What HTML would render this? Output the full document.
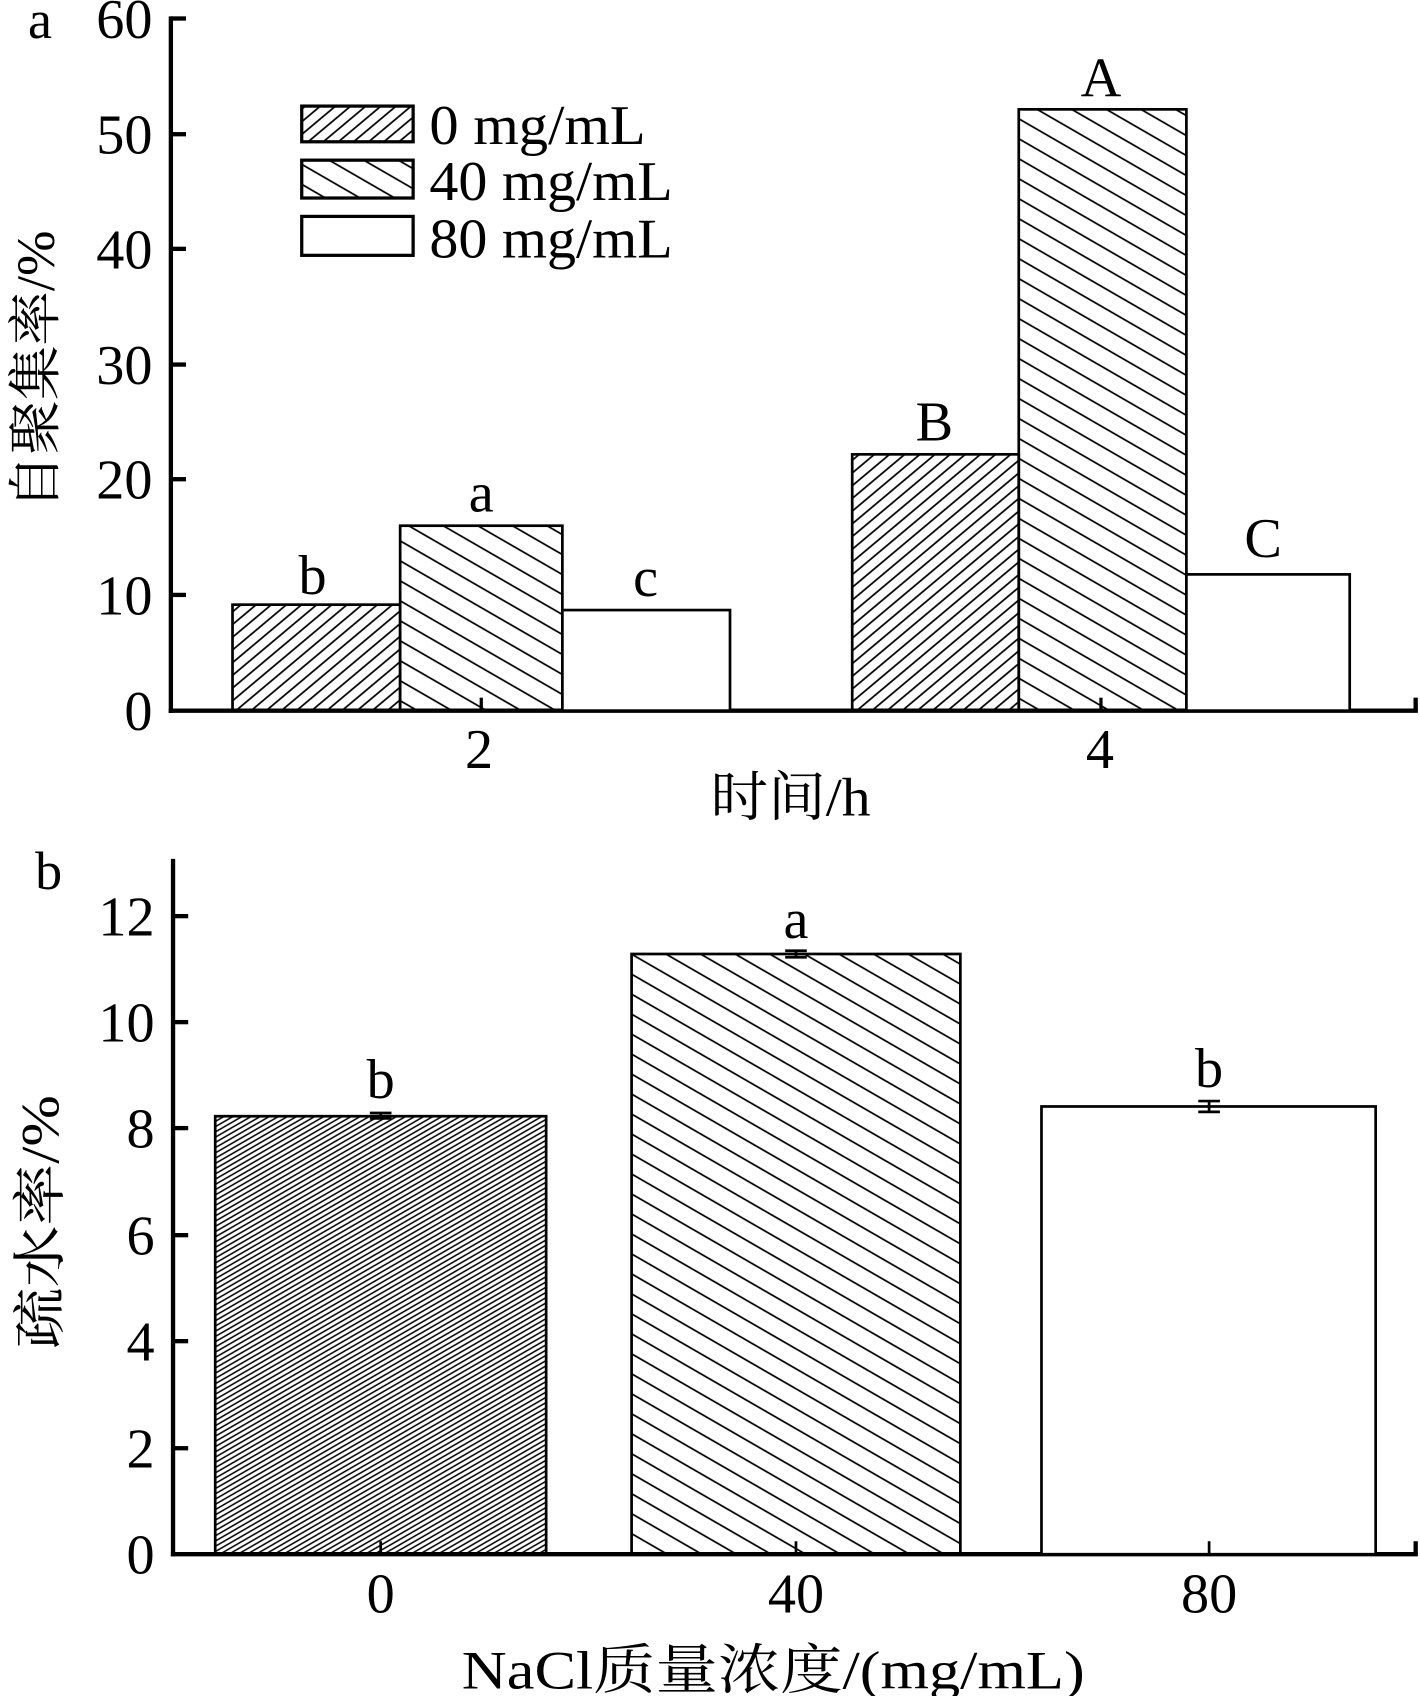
<!DOCTYPE html>
<html><head><meta charset="utf-8"><style>
html,body{margin:0;padding:0;background:#fff;}
svg{display:block;}
text{font-family:"Liberation Serif","Noto Serif CJK SC",serif;fill:#000;}
</style></head><body>
<svg width="1420" height="1696" viewBox="0 0 1313 1568" xmlns="http://www.w3.org/2000/svg">
<defs>
<pattern id="p1" width="9" height="9" patternUnits="userSpaceOnUse" patternTransform="rotate(-40)"><line x1="0" y1="4.5" x2="9" y2="4.5" stroke="#000" stroke-width="1.6"/></pattern>
<pattern id="p2" width="16" height="16" patternUnits="userSpaceOnUse" patternTransform="rotate(30)"><line x1="0" y1="8" x2="16" y2="8" stroke="#000" stroke-width="1.6"/></pattern>
<pattern id="p3" width="4.2" height="4.2" patternUnits="userSpaceOnUse" patternTransform="rotate(-30)"><line x1="0" y1="2.1" x2="4.2" y2="2.1" stroke="#000" stroke-width="1.4"/></pattern>
</defs>
<g font-size="50">
<!-- chart a -->
<text x="37" y="35" text-anchor="middle">a</text>
<g stroke="#000" stroke-width="4" fill="none">
<line x1="158" y1="15" x2="158" y2="659"/>
<line x1="156" y1="657" x2="1311" y2="657"/>
<line x1="158" y1="17" x2="172" y2="17"/><line x1="158" y1="124" x2="172" y2="124"/><line x1="158" y1="230" x2="172" y2="230"/><line x1="158" y1="337" x2="172" y2="337"/><line x1="158" y1="443" x2="172" y2="443"/><line x1="158" y1="550" x2="172" y2="550"/>
<line x1="1309" y1="657" x2="1309" y2="645"/>
</g>
<g text-anchor="end" font-size="52">
<text x="141" y="35">60</text><text x="141" y="142">50</text><text x="141" y="248">40</text><text x="141" y="355">30</text><text x="141" y="461">20</text><text x="141" y="568">10</text><text x="141" y="675">0</text>
</g>
<g stroke="#000" stroke-width="2.5">
<rect x="215" y="559" width="155" height="98" fill="url(#p1)"/>
<rect x="370" y="486" width="150" height="171" fill="url(#p2)"/>
<rect x="520" y="564" width="155" height="93" fill="#fff"/>
<rect x="788" y="420" width="154" height="237" fill="url(#p1)"/>
<rect x="942" y="101" width="155" height="556" fill="url(#p2)"/>
<rect x="1097" y="531" width="151" height="126" fill="#fff"/>
</g>
<g stroke="#000" stroke-width="3"><line x1="445" y1="657" x2="445" y2="645"/><line x1="1018" y1="657" x2="1018" y2="645"/></g>
<g text-anchor="middle" font-size="52">
<text x="289" y="549">b</text><text x="445" y="473">a</text><text x="597" y="551">c</text>
<text x="864" y="407">B</text><text x="1018" y="89">A</text><text x="1168" y="515">C</text>
<text x="443" y="710">2</text><text x="1017" y="710">4</text>
<text x="731" y="754" font-size="50" textLength="148" lengthAdjust="spacingAndGlyphs">时间/h</text>
</g>
<text transform="translate(50,342) rotate(-90)" text-anchor="middle" font-size="50" textLength="258" lengthAdjust="spacingAndGlyphs">自聚集率/%</text>
<g stroke="#000" stroke-width="3">
<rect x="279" y="98" width="103" height="33" fill="url(#p1)"/>
<rect x="279" y="148" width="103" height="35" fill="url(#p2)"/>
<rect x="279" y="200" width="103" height="36" fill="#fff"/>
</g>
<g font-size="52">
<text x="397" y="133" textLength="200" lengthAdjust="spacingAndGlyphs">0 mg/mL</text><text x="397" y="185" textLength="225" lengthAdjust="spacingAndGlyphs">40 mg/mL</text><text x="397" y="238" textLength="225" lengthAdjust="spacingAndGlyphs">80 mg/mL</text>
</g>

<!-- chart b -->
<text x="45" y="822" text-anchor="middle">b</text>
<g stroke="#000" stroke-width="4" fill="none">
<line x1="160" y1="794" x2="160" y2="1439"/>
<line x1="158" y1="1437" x2="1311" y2="1437"/>
<line x1="160" y1="847" x2="174" y2="847"/><line x1="160" y1="945" x2="174" y2="945"/><line x1="160" y1="1043" x2="174" y2="1043"/><line x1="160" y1="1142" x2="174" y2="1142"/><line x1="160" y1="1240" x2="174" y2="1240"/><line x1="160" y1="1339" x2="174" y2="1339"/>
<line x1="1309" y1="1437" x2="1309" y2="1425"/>
</g>
<g text-anchor="end" font-size="52">
<text x="143" y="865">12</text><text x="143" y="963">10</text><text x="143" y="1061">8</text><text x="143" y="1160">6</text><text x="143" y="1258">4</text><text x="143" y="1357">2</text><text x="143" y="1455">0</text>
</g>
<g stroke="#000" stroke-width="2.5">
<rect x="199" y="1032" width="306" height="405" fill="url(#p3)"/>
<rect x="584" y="882" width="304" height="555" fill="url(#p2)"/>
<rect x="963" y="1023" width="309" height="414" fill="#fff"/>
</g>
<g stroke="#000" stroke-width="2.5">
<line x1="352" y1="1029" x2="352" y2="1034"/><line x1="342" y1="1029" x2="362" y2="1029"/><line x1="342" y1="1034" x2="362" y2="1034"/>
<line x1="736" y1="879" x2="736" y2="885"/><line x1="726" y1="879" x2="746" y2="879"/><line x1="726" y1="885" x2="746" y2="885"/>
<line x1="1118" y1="1018" x2="1118" y2="1028"/><line x1="1108" y1="1018" x2="1128" y2="1018"/><line x1="1108" y1="1028" x2="1128" y2="1028"/>
<line x1="352" y1="1437" x2="352" y2="1425"/><line x1="736" y1="1437" x2="736" y2="1425"/><line x1="1118" y1="1437" x2="1118" y2="1425"/>
</g>
<g text-anchor="middle" font-size="52">
<text x="352" y="1015">b</text><text x="736" y="867">a</text><text x="1118" y="1005">b</text>
<text x="352" y="1491">0</text><text x="736" y="1491">40</text><text x="1118" y="1491">80</text>
<text x="715" y="1561" font-size="50" textLength="576" lengthAdjust="spacingAndGlyphs">NaCl质量浓度/(mg/mL)</text>
</g>
<text transform="translate(54,1130) rotate(-90)" text-anchor="middle" font-size="50" textLength="235" lengthAdjust="spacingAndGlyphs">疏水率/%</text>
</g>
</svg>
</body></html>
